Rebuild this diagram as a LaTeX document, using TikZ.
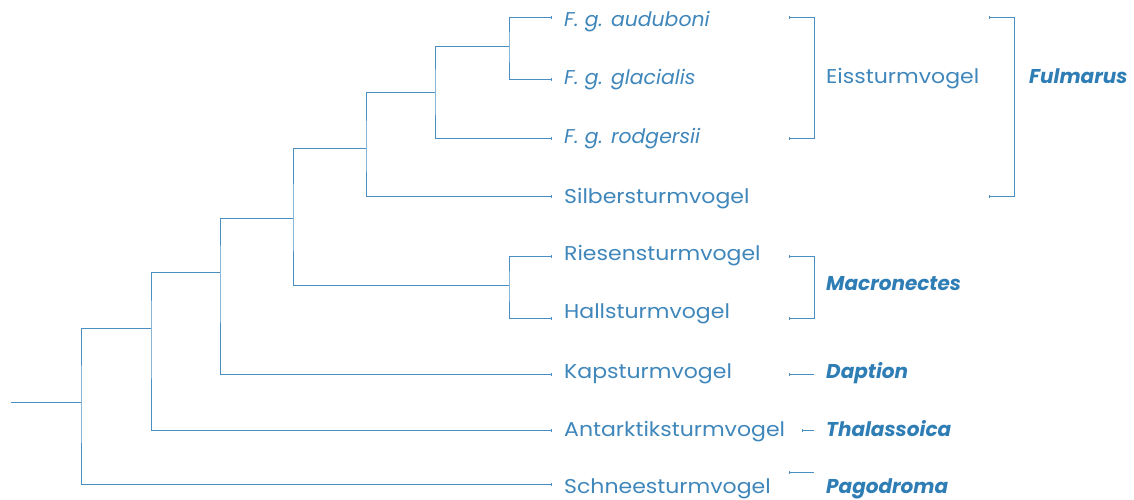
\documentclass[tikz,border=0pt]{standalone}
\usepackage{fontspec}
\setmainfont{Poppins}[UprightFeatures={FakeStretch=1.1},ItalicFeatures={FakeStretch=1.02}]
\definecolor{linec}{HTML}{4A8FC2}
\definecolor{textc}{HTML}{3F86BA}
\definecolor{boldc}{HTML}{2E7DB5}
\begin{document}
\begin{tikzpicture}[x=1pt,y=-1pt,
  tree/.style={draw=linec,line width=0.95pt},
  leaf/.style={anchor=base west,inner sep=0pt,text=textc,font=\fontsize{20}{24}\selectfont},
  genus/.style={anchor=base west,inner sep=0pt,text=boldc,font=\fontsize{20}{24}\selectfont\bfseries\itshape}]
\useasboundingbox (0,0) rectangle (1134,499);
% leaf end points
\coordinate (a1) at (551,17);
\coordinate (a2) at (551,79);
\coordinate (a3) at (551,138);
\coordinate (a4) at (551,196);
\coordinate (a5) at (551,256);
\coordinate (a6) at (551,318);
\coordinate (a7) at (551,374);
\coordinate (a8) at (551,430);
\coordinate (a9) at (551,484);
% internal nodes
\coordinate (n1) at (509,46);
\coordinate (n2) at (435,92);
\coordinate (n3) at (366,148);
\coordinate (m)  at (509,285);
\coordinate (n4) at (293,218);
\coordinate (n5) at (220,272);
\coordinate (n6) at (151,328);
\coordinate (n7) at (81,402);
\coordinate (root) at (11,402);
% tree
\draw[tree] (a1) -| (n1) |- (a2);
\draw[tree] (n1) -| (n2) |- (a3);
\draw[tree] (n2) -| (n3) |- (a4);
\draw[tree] (a5) -| (m) |- (a6);
\draw[tree] (n3) -| (n4) |- (m);
\draw[tree] (n4) -| (n5) |- (a7);
\draw[tree] (n5) -| (n6) |- (a8);
\draw[tree] (n6) -| (n7) |- (a9);
\draw[tree] (root) -- (n7);
\foreach \p in {a1,a2,a3,a4,a5,a6,a7,a8,a9}
  \draw[tree,line width=0.8pt] ([yshift=-1.5pt]\p) -- ([yshift=1.5pt]\p);
% leaf labels
\node[leaf] (t1) at (564,26) {\itshape F. g. auduboni};
\node[leaf] (t2) at (564,84) {\itshape F. g. glacialis};
\node[leaf] (t3) at (564,143) {\itshape F. g. rodgersii};
\node[leaf] (t4) at (564,203) {Silbersturmvogel};
\node[leaf] (t5) at (564,260) {Riesensturmvogel};
\node[leaf] (t6) at (564,318) {Hallsturmvogel};
\node[leaf] (t7) at (564,378) {Kapsturmvogel};
\node[leaf] (t8) at (564,436) {Antarktiksturmvogel};
\node[leaf] (t9) at (564,493) {Schneesturmvogel};
% brackets
\coordinate (b1a) at (789,17);  \coordinate (b1b) at (789,138); \coordinate (b1c) at (814,0);
\coordinate (b2a) at (989,17);  \coordinate (b2b) at (989,196); \coordinate (b2c) at (1014,0);
\coordinate (b3a) at (789,256); \coordinate (b3b) at (789,318); \coordinate (b3c) at (814,0);
\draw[tree] (b1a) -| (b1c |- b1b) -- (b1b);
\draw[tree] (b2a) -| (b2c |- b2b) -- (b2b);
\draw[tree] (b3a) -| (b3c |- b3b) -- (b3b);
\coordinate (d1) at (789,374); \coordinate (d2) at (814,374);
\coordinate (e1) at (802,430); \coordinate (e2) at (814,430);
\coordinate (f1) at (789,472); \coordinate (f2) at (814,472);
\draw[tree] (d1) -- (d2);
\draw[tree] (e1) -- (e2);
\draw[tree] (f1) -- (f2);
\foreach \p in {b1a,b1b,b2a,b2b,b3a,b3b,d1,e1,f1}
  \draw[tree,line width=0.8pt] ([yshift=-1.5pt]\p) -- ([yshift=1.5pt]\p);
% group labels
\node[leaf] (g1) at (826,83) {Eissturmvogel};
\node[genus] (g2) at (1029,83) {Fulmarus};
\node[genus] (g3) at (826,290) {Macronectes};
\node[genus] (g4) at (826,378) {Daption};
\node[genus] (g5) at (826,436) {Thalassoica};
\node[genus] (g6) at (826,493) {Pagodroma};
\end{tikzpicture}
\end{document}
